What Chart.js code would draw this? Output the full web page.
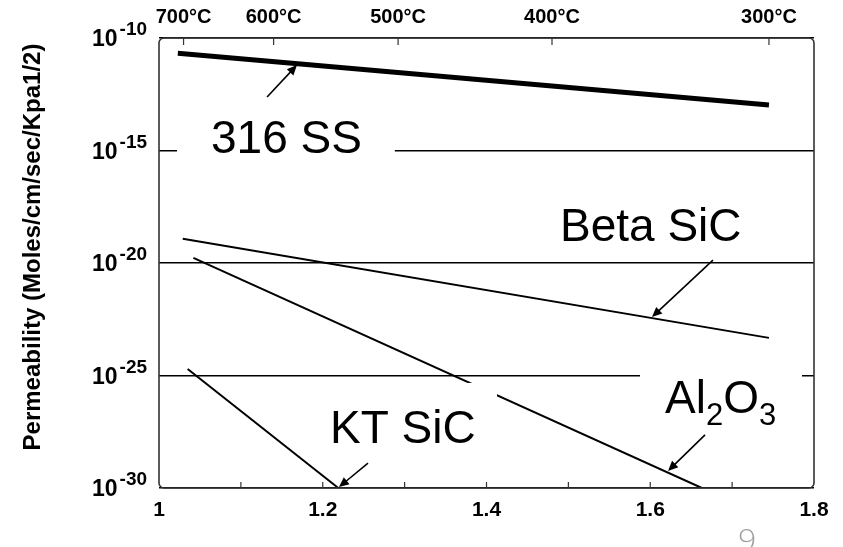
<!DOCTYPE html>
<html>
<head>
<meta charset="utf-8">
<script src="https://cdn.jsdelivr.net/npm/chart.js@4.4.1/dist/chart.umd.min.js"></script>
<style>
  html, body { margin: 0; padding: 0; background: #fff; }
  #wrap { position: relative; width: 843px; height: 547px; overflow: hidden; }
  #pagina { position: absolute; left: 738px; top: 517px; font: 300 32px "Open Sans", sans-serif; color: #a0a0a0; }
</style>
</head>
<body>
<div id="wrap">
  <canvas id="grafico" width="843" height="547"></canvas>
  <div id="pagina">9</div>
</div>
<script>
// series (x = 1000/T, y = permeability)
const ssX = [1.023, 1.745];
const ssY = [2.1e-11, 1.05e-13];
const betaX = [1.029, 1.745];
const betaY = [1.2e-19, 4.7e-24];
const aluminaX = [1.042, 1.663];
const aluminaY = [1.7e-20, 1e-30];
const ktX = [1.035, 1.219];
const ktY = [1.95e-25, 1e-30];

// axes
const xTicks = [1, 1.1, 1.2, 1.3, 1.4, 1.5, 1.6, 1.7, 1.8];
const xLabels = ["1", "", "1.2", "", "1.4", "", "1.6", "", "1.8"];
const tempPos = [1.03, 1.14, 1.292, 1.48, 1.745];
const tempLabels = ["700°C", "600°C", "500°C", "400°C", "300°C"];
const yTicks = [1e-10, 1e-15, 1e-20, 1e-25, 1e-30];
const yExpLabels = ["-10", "-15", "-20", "-25", "-30"];

const FONTE = '"Liberation Sans", Arial, sans-serif';

function pontos(xs, ys) {
  return xs.map((x, i) => ({ x: x, y: ys[i] }));
}

// rotulos com caixa branca e seta (posicoes em x e log10(y))
const anotacoes = [
  {
    partes: [{ t: "316 SS", s: 46, dy: 0 }],
    tx: 1.0635, ty: -15.11,
    caixa: [1.022, -12.62, 1.288, -15.64],
    seta: [1.132, -12.62, 1.1685, -11.2],
  },
  {
    partes: [{ t: "Beta SiC", s: 46, dy: 0 }],
    tx: 1.4898, ty: -19.02,
    caixa: null,
    seta: [1.6766, -19.87, 1.6021, -22.4],
  },
  {
    partes: [
      { t: "Al", s: 46, dy: 0 },
      { t: "2", s: 31, dy: 12 },
      { t: "O", s: 46, dy: 0 },
      { t: "3", s: 31, dy: 12 },
    ],
    tx: 1.618, ty: -26.67,
    caixa: [1.5875, -24.67, 1.7853, -27.42],
    seta: [1.6669, -27.64, 1.6217, -29.24],
  },
  {
    partes: [{ t: "KT SiC", s: 46, dy: 0 }],
    tx: 1.2089, ty: -28.0,
    caixa: [1.1905, -25.33, 1.4128, -28.62],
    seta: [1.2553, -28.89, 1.2198, -29.96],
  },
];

function seta(ctx, x1, y1, x2, y2) {
  const ang = Math.atan2(y2 - y1, x2 - x1);
  const L = 10, W = 4.5;
  ctx.strokeStyle = "#000";
  ctx.lineWidth = 1.6;
  ctx.beginPath();
  ctx.moveTo(x1, y1);
  ctx.lineTo(x2 - Math.cos(ang) * L * 0.8, y2 - Math.sin(ang) * L * 0.8);
  ctx.stroke();
  ctx.fillStyle = "#000";
  ctx.beginPath();
  ctx.moveTo(x2, y2);
  ctx.lineTo(x2 - Math.cos(ang) * L - Math.sin(ang) * W, y2 - Math.sin(ang) * L + Math.cos(ang) * W);
  ctx.lineTo(x2 - Math.cos(ang) * L + Math.sin(ang) * W, y2 - Math.sin(ang) * L - Math.cos(ang) * W);
  ctx.closePath();
  ctx.fill();
}

const pluginDesenho = {
  id: "desenho",
  afterDatasetsDraw(chart) {
    const ctx = chart.ctx;
    const sx = chart.scales.x, sy = chart.scales.y;
    const px = (v) => sx.getPixelForValue(v);
    const py = (l) => sy.getPixelForValue(Math.pow(10, l));
    ctx.save();
    anotacoes.forEach((a) => {
      if (a.caixa) {
        const [x1, y1, x2, y2] = a.caixa;
        ctx.fillStyle = "#fff";
        ctx.fillRect(px(x1), py(y1), px(x2) - px(x1), py(y2) - py(y1));
      }
      let x = px(a.tx);
      const y = py(a.ty);
      ctx.fillStyle = "#000";
      ctx.textAlign = "left";
      ctx.textBaseline = "alphabetic";
      a.partes.forEach((p) => {
        ctx.font = p.s + "px " + FONTE;
        ctx.fillText(p.t, x, y + p.dy);
        x += ctx.measureText(p.t).width;
      });
      const s = a.seta;
      seta(ctx, px(s[0]), py(s[1]), px(s[2]), py(s[3]));
    });
    ctx.restore();
  },
  afterDraw(chart) {
    const ctx = chart.ctx;
    const area = chart.chartArea;
    const sx = chart.scales.x, sy = chart.scales.y;
    ctx.save();
    // moldura
    ctx.strokeStyle = "#333";
    ctx.lineWidth = 1.6;
    ctx.beginPath();
    ctx.roundRect(area.left, area.top, area.right - area.left, area.bottom - area.top, 5);
    ctx.stroke();
    // marcas internas
    ctx.lineWidth = 1.2;
    xTicks.slice(1, -1).forEach((v) => {
      const x = sx.getPixelForValue(v);
      ctx.beginPath();
      ctx.moveTo(x, area.bottom);
      ctx.lineTo(x, area.bottom - 6);
      ctx.stroke();
    });
    tempPos.forEach((v) => {
      const x = sx.getPixelForValue(v);
      ctx.beginPath();
      ctx.moveTo(x, area.top);
      ctx.lineTo(x, area.top + 7);
      ctx.stroke();
    });
    // rotulos do eixo y: 10 com expoente
    ctx.fillStyle = "#000";
    ctx.textAlign = "left";
    ctx.textBaseline = "alphabetic";
    yTicks.forEach((v, i) => {
      const y = sy.getPixelForValue(v);
      ctx.font = "bold 23px " + FONTE;
      ctx.fillText("10", 92, y + 8);
      const w = ctx.measureText("10").width;
      ctx.font = "bold 19px " + FONTE;
      ctx.fillText(yExpLabels[i], 92 + w + 2, y - 3);
    });
    // titulo do eixo y
    ctx.translate(40, 247);
    ctx.rotate(-Math.PI / 2);
    ctx.textAlign = "center";
    ctx.font = "bold 24px " + FONTE;
    ctx.fillText("Permeability (Moles/cm/sec/Kpa1/2)", 0, 0);
    ctx.restore();
  },
};

new Chart(document.getElementById("grafico"), {
  type: "line",
  data: {
    datasets: [
      { label: "316 SS", data: pontos(ssX, ssY), borderColor: "#000", borderWidth: 5 },
      { label: "Beta SiC", data: pontos(betaX, betaY), borderColor: "#000", borderWidth: 2 },
      { label: "Al2O3", data: pontos(aluminaX, aluminaY), borderColor: "#000", borderWidth: 2 },
      { label: "KT SiC", data: pontos(ktX, ktY), borderColor: "#000", borderWidth: 2 },
    ],
  },
  options: {
    responsive: false,
    animation: false,
    devicePixelRatio: 1,
    layout: { padding: { left: 0, right: 29, top: 0, bottom: 0 } },
    elements: { point: { radius: 0 }, line: { tension: 0 } },
    plugins: { legend: { display: false }, tooltip: { enabled: false } },
    scales: {
      x: {
        type: "linear",
        position: "bottom",
        min: 1,
        max: 1.8,
        afterBuildTicks: (sc) => { sc.ticks = xTicks.map((v) => ({ value: v })); },
        afterFit: (sc) => { sc.height = 59; },
        ticks: {
          color: "#000",
          font: { family: FONTE, size: 21, weight: "bold" },
          padding: 10,
          maxRotation: 0,
          autoSkip: false,
          callback: (v, i) => xLabels[i],
        },
        grid: { display: false, drawTicks: false },
        border: { display: false },
      },
      x2: {
        type: "linear",
        position: "top",
        min: 1,
        max: 1.8,
        afterBuildTicks: (sc) => { sc.ticks = tempPos.map((v) => ({ value: v })); },
        afterFit: (sc) => { sc.height = 38; },
        ticks: {
          color: "#000",
          font: { family: FONTE, size: 20, weight: "bold" },
          padding: 9,
          maxRotation: 0,
          autoSkip: false,
          callback: (v, i) => tempLabels[i],
        },
        grid: { display: false, drawTicks: false },
        border: { display: false },
      },
      y: {
        type: "logarithmic",
        min: 1e-30,
        max: 1e-10,
        afterBuildTicks: (sc) => { sc.ticks = yTicks.map((v) => ({ value: v })); },
        afterFit: (sc) => { sc.width = 159; },
        ticks: { display: false },
        grid: { color: "#000", lineWidth: 1.5, drawTicks: false },
        border: { display: false },
      },
    },
  },
  plugins: [pluginDesenho],
});
</script>
</body>
</html>
